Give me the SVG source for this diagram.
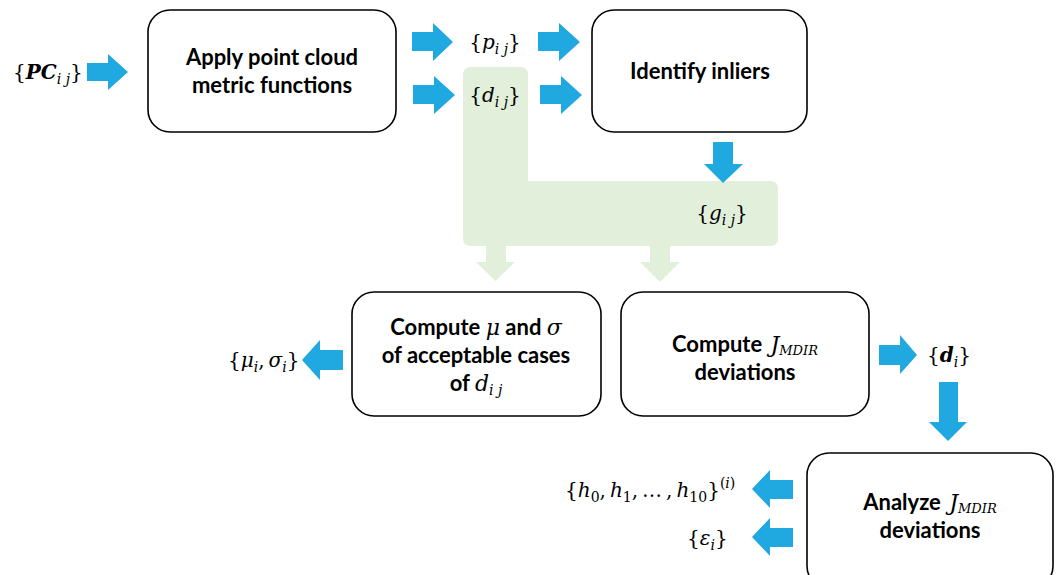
<svg xmlns="http://www.w3.org/2000/svg" width="1060" height="575" viewBox="0 0 1060 575">
<style>
.box{fill:#fff;stroke:#000;stroke-width:1.6}
.lbl{font-family:Lato,"Liberation Sans",sans-serif;font-weight:bold;font-size:22px;fill:#000;text-anchor:middle}
.m{font-family:"DejaVu Serif","Liberation Serif",serif;font-size:20px;fill:#000}
.i{font-style:italic}
.mi{font-family:"DejaVu Serif","Liberation Serif",serif;font-style:italic;font-weight:normal}
.blue{fill:#20A8E0}
.green{fill:#E2EFDA}
</style>
<rect width="1060" height="575" fill="#fff"/>
<g id="green-band">
<path class="green" d="M471 67 H520 Q528 67 528 75 V181 H770 Q778 181 778 189 V238 Q778 246 770 246 H471 Q463 246 463 238 V75 Q463 67 471 67 Z"/>
</g>
<g id="connectors">
<polygon class="blue" points="87,63 108,63 108,54 128,72 108,90 108,81 87,81"/>
<polygon class="blue" points="412,32 433,32 433,23 453,42 433,61 433,51 412,51"/>
<polygon class="blue" points="413,85 434,85 434,76 455,95 434,114 434,104 413,104"/>
<polygon class="blue" points="538,32 559,32 559,23 580,42 559,61 559,51 538,51"/>
<polygon class="blue" points="540,85 561,85 561,76 582,95 561,114 561,104 540,104"/>
<polygon class="blue" points="713,142 733,142 733,164 743,164 723,183 704,164 713,164"/>
<polygon class="green" points="486,246 506,246 506,262 515,262 495.5,281 476,262 486,262"/>
<polygon class="green" points="650,246 670,246 670,262 680,262 660,282 640,262 650,262"/>
<polygon class="blue" points="343,350 320,350 320,340 302,360 320,380 320,370 343,370"/>
<polygon class="blue" points="879,345 900,345 900,335 917,355 900,374 900,365 879,365"/>
<polygon class="blue" points="939,382 958,382 958,422 967,422 948,441 929,422 939,422"/>
<polygon class="blue" points="793,480 770,480 770,470 752,489 770,508 770,499 793,499"/>
<polygon class="blue" points="793,528 770,528 770,518 752,537 770,556 770,547 793,547"/>
</g>
<g id="n-apply">
<rect class="box" x="148" y="10" width="248" height="122" rx="22"/>
<text class="lbl" x="272" y="65">Apply point cloud</text>
<text class="lbl" x="272" y="93">metric functions</text>
</g>
<g id="n-identify">
<rect class="box" x="592" y="10" width="215" height="122" rx="22"/>
<text class="lbl" x="700" y="79">Identify inliers</text>
</g>
<g id="n-mu">
<rect class="box" x="352" y="292" width="249" height="124" rx="22"/>
<text class="lbl" x="476" y="335">Compute <tspan class="mi">μ</tspan> and <tspan class="mi">σ</tspan></text>
<text class="lbl" x="476" y="363">of acceptable cases</text>
<text class="lbl" x="476" y="391">of <tspan class="mi">d</tspan><tspan class="mi" font-size="14" dy="4">i j</tspan></text>
</g>
<g id="n-jmdir">
<rect class="box" x="621" y="292" width="248" height="124" rx="22"/>
<text class="lbl" x="745" y="352">Compute <tspan class="mi" dx="3">J</tspan><tspan class="mi" font-size="13" dy="3">MDIR</tspan></text>
<text class="lbl" x="745" y="380">deviations</text>
</g>
<g id="n-analyze">
<rect class="box" x="807" y="453" width="246" height="135" rx="22"/>
<text class="lbl" x="930" y="510">Analyze <tspan class="mi" dx="3">J</tspan><tspan class="mi" font-size="13" dy="3">MDIR</tspan></text>
<text class="lbl" x="930" y="538">deviations</text>
</g>
<g id="labels">
<text class="m" x="13" y="79">{<tspan class="i" font-weight="bold">PC</tspan><tspan class="i" font-size="14" dy="5">i j</tspan><tspan dy="-5">}</tspan></text>
<text class="m" x="495" y="49" text-anchor="middle">{<tspan class="i">p</tspan><tspan class="i" font-size="14" dy="5">i j</tspan><tspan dy="-5">}</tspan></text>
<text class="m" x="495" y="102" text-anchor="middle">{<tspan class="i">d</tspan><tspan class="i" font-size="14" dy="5">i j</tspan><tspan dy="-5">}</tspan></text>
<text class="m" x="722" y="220" text-anchor="middle">{<tspan class="i">g</tspan><tspan class="i" font-size="14" dy="5">i j</tspan><tspan dy="-5">}</tspan></text>
<text class="m" x="228" y="367">{<tspan class="i">μ</tspan><tspan class="i" font-size="14" dy="5">i</tspan><tspan dy="-5">,&#8201;</tspan><tspan class="i">σ</tspan><tspan class="i" font-size="14" dy="5">i</tspan><tspan dy="-5">}</tspan></text>
<text class="m" x="927" y="362">{<tspan class="i" font-weight="bold">d</tspan><tspan class="i" font-size="14" dy="5">i</tspan><tspan dy="-5">}</tspan></text>
<text class="m" x="565" y="497">{<tspan class="i">h</tspan><tspan font-size="14" dy="5">0</tspan><tspan dy="-5">,&#8201;</tspan><tspan class="i">h</tspan><tspan font-size="14" dy="5">1</tspan><tspan dy="-5">,&#8201;…&#8201;,&#8201;</tspan><tspan class="i">h</tspan><tspan font-size="14" dy="5">10</tspan><tspan dy="-5">}</tspan><tspan font-size="14" dy="-9">(</tspan><tspan class="i" font-size="14">i</tspan><tspan font-size="14">)</tspan></text>
<text class="m" x="687" y="545">{<tspan class="i">ε</tspan><tspan class="i" font-size="14" dy="5">i</tspan><tspan dy="-5">}</tspan></text>
</g>
</svg>
